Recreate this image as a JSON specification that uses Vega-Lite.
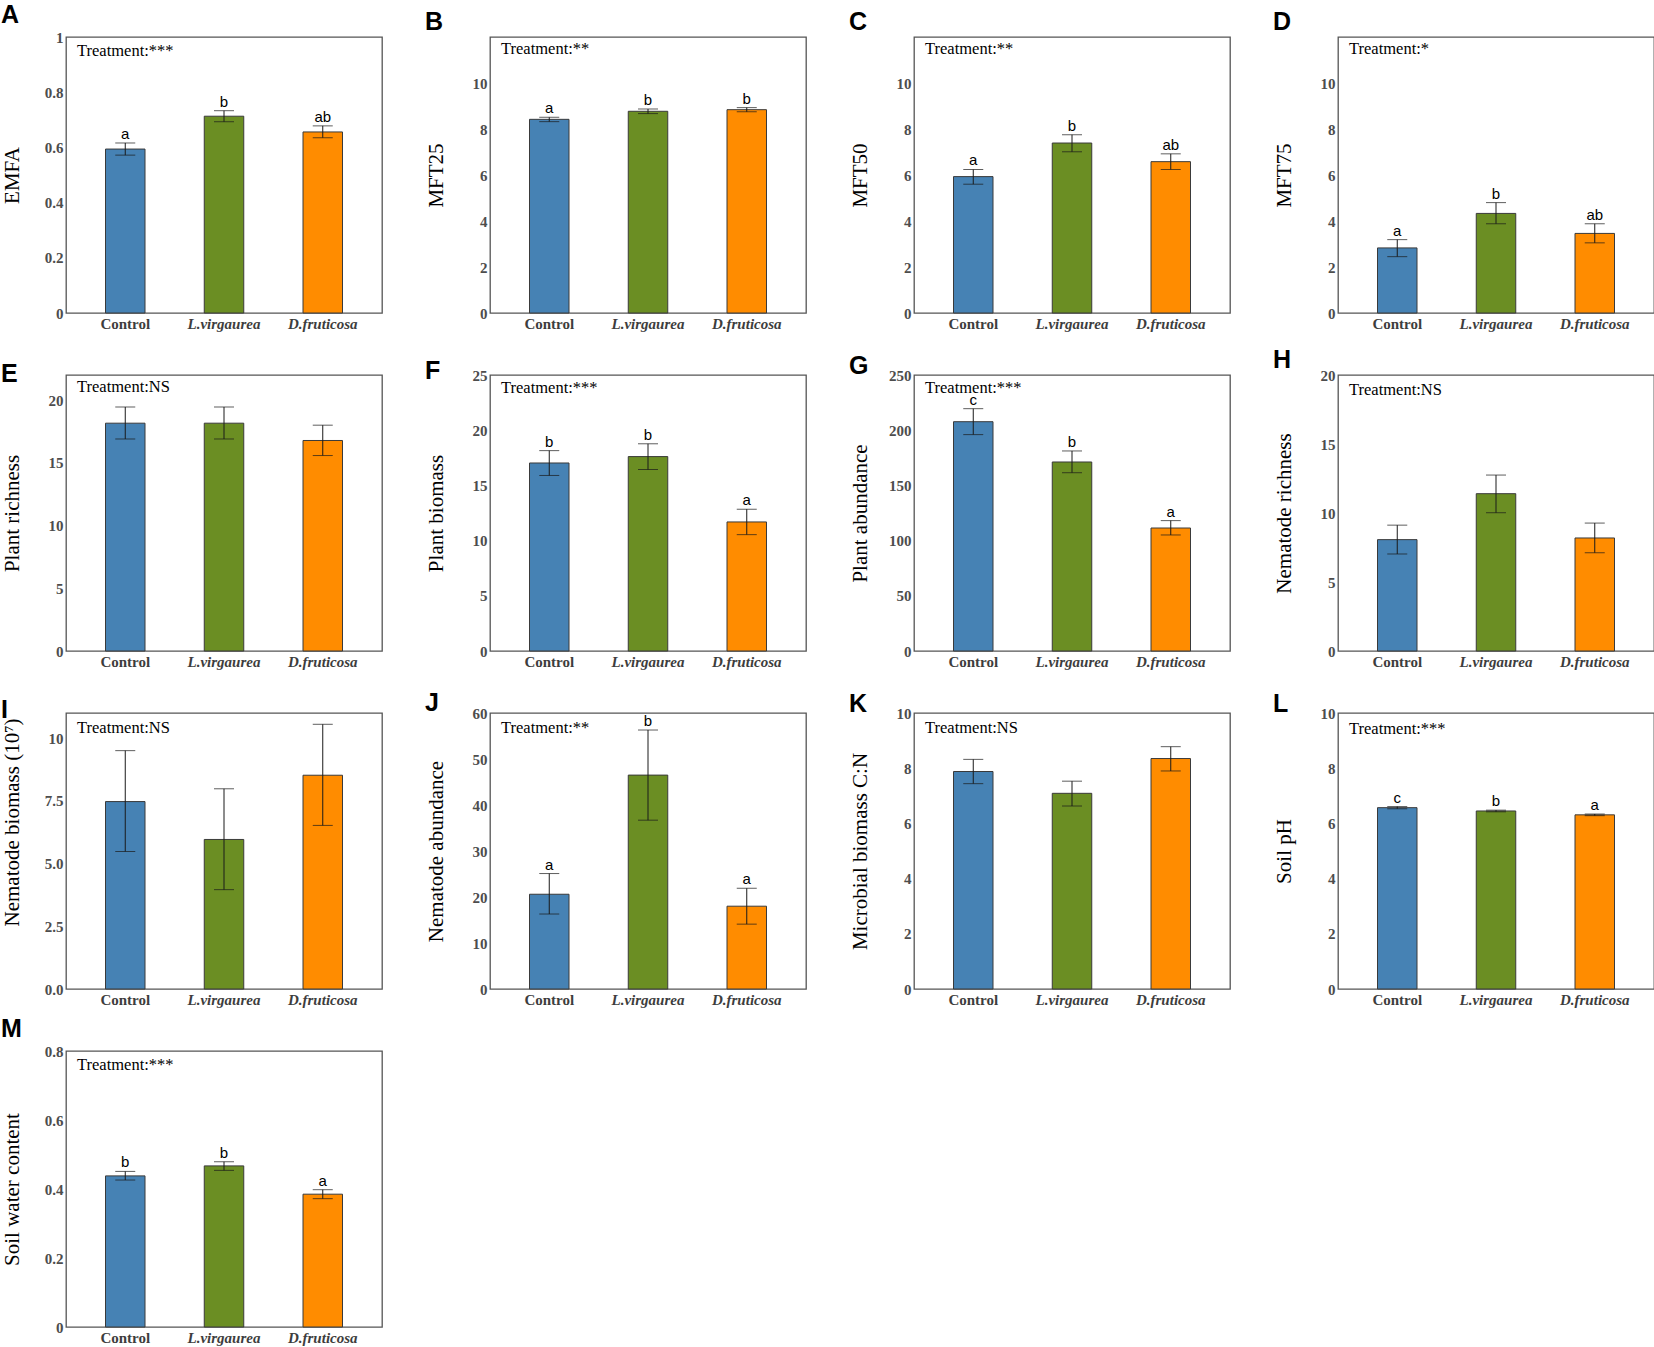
{
  "$schema": "https://vega.github.io/schema/vega-lite/v6.json",
  "autosize": {"type": "pad"},
  "padding": {"left": 0, "top": 2, "right": 0, "bottom": 0},
  "background": "white",
  "data": {
    "values": [
      {"p": "A", "t": "Control", "m": 0.594, "lo": 0.572, "hi": 0.616, "s": "a", "n": "Treatment:***"},
      {"p": "A", "t": "L.virgaurea", "m": 0.713, "lo": 0.693, "hi": 0.733, "s": "b", "n": ""},
      {"p": "A", "t": "D.fruticosa", "m": 0.656, "lo": 0.635, "hi": 0.678, "s": "ab", "n": ""},
      {"p": "B", "t": "Control", "m": 8.42, "lo": 8.32, "hi": 8.51, "s": "a", "n": "Treatment:**"},
      {"p": "B", "t": "L.virgaurea", "m": 8.77, "lo": 8.67, "hi": 8.87, "s": "b", "n": ""},
      {"p": "B", "t": "D.fruticosa", "m": 8.84, "lo": 8.75, "hi": 8.93, "s": "b", "n": ""},
      {"p": "C", "t": "Control", "m": 5.93, "lo": 5.6, "hi": 6.24, "s": "a", "n": "Treatment:**"},
      {"p": "C", "t": "L.virgaurea", "m": 7.39, "lo": 7.01, "hi": 7.75, "s": "b", "n": ""},
      {"p": "C", "t": "D.fruticosa", "m": 6.58, "lo": 6.24, "hi": 6.92, "s": "ab", "n": ""},
      {"p": "D", "t": "Control", "m": 2.83, "lo": 2.45, "hi": 3.19, "s": "a", "n": "Treatment:*"},
      {"p": "D", "t": "L.virgaurea", "m": 4.33, "lo": 3.88, "hi": 4.8, "s": "b", "n": ""},
      {"p": "D", "t": "D.fruticosa", "m": 3.46, "lo": 3.05, "hi": 3.88, "s": "ab", "n": ""},
      {"p": "E", "t": "Control", "m": 18.16, "lo": 16.9, "hi": 19.45, "s": "", "n": "Treatment:NS"},
      {"p": "E", "t": "L.virgaurea", "m": 18.16, "lo": 16.9, "hi": 19.45, "s": "", "n": ""},
      {"p": "E", "t": "D.fruticosa", "m": 16.78, "lo": 15.58, "hi": 18.0, "s": "", "n": ""},
      {"p": "F", "t": "Control", "m": 17.03, "lo": 15.9, "hi": 18.15, "s": "b", "n": "Treatment:***"},
      {"p": "F", "t": "L.virgaurea", "m": 17.61, "lo": 16.44, "hi": 18.77, "s": "b", "n": ""},
      {"p": "F", "t": "D.fruticosa", "m": 11.69, "lo": 10.54, "hi": 12.84, "s": "a", "n": ""},
      {"p": "G", "t": "Control", "m": 207.7, "lo": 196.0, "hi": 219.5, "s": "c", "n": "Treatment:***"},
      {"p": "G", "t": "L.virgaurea", "m": 171.2, "lo": 161.5, "hi": 181.2, "s": "b", "n": ""},
      {"p": "G", "t": "D.fruticosa", "m": 111.4, "lo": 105.1, "hi": 118.1, "s": "a", "n": ""},
      {"p": "H", "t": "Control", "m": 8.07, "lo": 7.03, "hi": 9.12, "s": "", "n": "Treatment:NS"},
      {"p": "H", "t": "L.virgaurea", "m": 11.4, "lo": 10.02, "hi": 12.75, "s": "", "n": ""},
      {"p": "H", "t": "D.fruticosa", "m": 8.19, "lo": 7.12, "hi": 9.27, "s": "", "n": ""},
      {"p": "I", "t": "Control", "m": 7.47, "lo": 5.48, "hi": 9.5, "s": "", "n": "Treatment:NS"},
      {"p": "I", "t": "L.virgaurea", "m": 5.96, "lo": 3.96, "hi": 7.98, "s": "", "n": ""},
      {"p": "I", "t": "D.fruticosa", "m": 8.52, "lo": 6.52, "hi": 10.55, "s": "", "n": ""},
      {"p": "J", "t": "Control", "m": 20.6, "lo": 16.3, "hi": 25.1, "s": "a", "n": "Treatment:**"},
      {"p": "J", "t": "L.virgaurea", "m": 46.5, "lo": 36.7, "hi": 56.3, "s": "b", "n": ""},
      {"p": "J", "t": "D.fruticosa", "m": 18.0, "lo": 14.1, "hi": 21.9, "s": "a", "n": ""},
      {"p": "K", "t": "Control", "m": 7.88, "lo": 7.44, "hi": 8.32, "s": "", "n": "Treatment:NS"},
      {"p": "K", "t": "L.virgaurea", "m": 7.09, "lo": 6.63, "hi": 7.53, "s": "", "n": ""},
      {"p": "K", "t": "D.fruticosa", "m": 8.35, "lo": 7.9, "hi": 8.78, "s": "", "n": ""},
      {"p": "L", "t": "Control", "m": 6.57, "lo": 6.53, "hi": 6.61, "s": "c", "n": "Treatment:***"},
      {"p": "L", "t": "L.virgaurea", "m": 6.45, "lo": 6.42, "hi": 6.48, "s": "b", "n": ""},
      {"p": "L", "t": "D.fruticosa", "m": 6.31, "lo": 6.28, "hi": 6.34, "s": "a", "n": ""},
      {"p": "M", "t": "Control", "m": 0.438, "lo": 0.426, "hi": 0.451, "s": "b", "n": "Treatment:***"},
      {"p": "M", "t": "L.virgaurea", "m": 0.467, "lo": 0.454, "hi": 0.479, "s": "b", "n": ""},
      {"p": "M", "t": "D.fruticosa", "m": 0.385, "lo": 0.372, "hi": 0.398, "s": "a", "n": ""}
    ]
  },
  "columns": 4,
  "bounds": "flush",
  "spacing": {"row": 62, "column": 108},
  "concat": [
    {
      "title": {"text": "A"},
      "width": 316, "height": 276,
      "transform": [{"filter": "datum.p == 'A'"}],
      "encoding": {
        "x": {"field": "t", "type": "nominal", "sort": ["Control", "L.virgaurea", "D.fruticosa"],
          "axis": {"labelFontStyle": {"condition": {"test": "datum.value != 'Control'", "value": "italic"}, "value": "normal"}}},
        "y": {"field": "m", "type": "quantitative", "scale": {"domain": [0, 1]},
          "axis": {"title": "EMFA", "values": [0, 0.2, 0.4, 0.6, 0.8, 1], "format": "~g"}}
      },
      "layer": [
        {"mark": {"type": "bar", "stroke": "#3a3a3a", "strokeWidth": 1},
          "encoding": {"color": {"field": "t", "type": "nominal", "legend": null,
            "scale": {"domain": ["Control", "L.virgaurea", "D.fruticosa"], "range": ["#4682B4", "#6B8E23", "#FF8C00"]}}}},
        {"mark": {"type": "rule", "color": "#1a1a1a", "strokeWidth": 1}, "encoding": {"y": {"field": "lo", "type": "quantitative"}, "y2": {"field": "hi"}}},
        {"mark": {"type": "tick", "color": "#1a1a1a", "size": 20, "thickness": 1}, "encoding": {"y": {"field": "lo", "type": "quantitative"}}},
        {"mark": {"type": "tick", "color": "#1a1a1a", "size": 20, "thickness": 1}, "encoding": {"y": {"field": "hi", "type": "quantitative"}}},
        {"mark": {"type": "text", "baseline": "alphabetic", "dy": -4, "font": "Liberation Sans", "fontSize": 15, "color": "black"},
          "encoding": {"y": {"field": "hi", "type": "quantitative"}, "text": {"field": "s"}}},
        {"mark": {"type": "text", "align": "left", "baseline": "alphabetic", "dx": -28.5, "dy": 19, "font": "Liberation Serif", "fontSize": 16.5, "color": "black"},
          "encoding": {"x": {"field": "t", "type": "nominal", "bandPosition": 0}, "y": {"datum": 1}, "text": {"field": "n"}}}
      ]
    },
    {
      "title": {"text": "B"},
      "width": 316, "height": 276,
      "transform": [{"filter": "datum.p == 'B'"}],
      "encoding": {
        "x": {"field": "t", "type": "nominal", "sort": ["Control", "L.virgaurea", "D.fruticosa"],
          "axis": {"labelFontStyle": {"condition": {"test": "datum.value != 'Control'", "value": "italic"}, "value": "normal"}}},
        "y": {"field": "m", "type": "quantitative", "scale": {"domain": [0, 12]},
          "axis": {"title": "MFT25", "values": [0, 2, 4, 6, 8, 10]}}
      },
      "layer": [
        {"mark": {"type": "bar", "stroke": "#3a3a3a", "strokeWidth": 1},
          "encoding": {"color": {"field": "t", "type": "nominal", "legend": null,
            "scale": {"domain": ["Control", "L.virgaurea", "D.fruticosa"], "range": ["#4682B4", "#6B8E23", "#FF8C00"]}}}},
        {"mark": {"type": "rule", "color": "#1a1a1a", "strokeWidth": 1}, "encoding": {"y": {"field": "lo", "type": "quantitative"}, "y2": {"field": "hi"}}},
        {"mark": {"type": "tick", "color": "#1a1a1a", "size": 20, "thickness": 1}, "encoding": {"y": {"field": "lo", "type": "quantitative"}}},
        {"mark": {"type": "tick", "color": "#1a1a1a", "size": 20, "thickness": 1}, "encoding": {"y": {"field": "hi", "type": "quantitative"}}},
        {"mark": {"type": "text", "baseline": "alphabetic", "dy": -4, "font": "Liberation Sans", "fontSize": 15, "color": "black"},
          "encoding": {"y": {"field": "hi", "type": "quantitative"}, "text": {"field": "s"}}},
        {"mark": {"type": "text", "align": "left", "baseline": "alphabetic", "dx": -28.5, "dy": 17, "font": "Liberation Serif", "fontSize": 16.5, "color": "black"},
          "encoding": {"x": {"field": "t", "type": "nominal", "bandPosition": 0}, "y": {"datum": 12}, "text": {"field": "n"}}}
      ]
    },
    {
      "title": {"text": "C"},
      "width": 316, "height": 276,
      "transform": [{"filter": "datum.p == 'C'"}],
      "encoding": {
        "x": {"field": "t", "type": "nominal", "sort": ["Control", "L.virgaurea", "D.fruticosa"],
          "axis": {"labelFontStyle": {"condition": {"test": "datum.value != 'Control'", "value": "italic"}, "value": "normal"}}},
        "y": {"field": "m", "type": "quantitative", "scale": {"domain": [0, 12]},
          "axis": {"title": "MFT50", "values": [0, 2, 4, 6, 8, 10]}}
      },
      "layer": [
        {"mark": {"type": "bar", "stroke": "#3a3a3a", "strokeWidth": 1},
          "encoding": {"color": {"field": "t", "type": "nominal", "legend": null,
            "scale": {"domain": ["Control", "L.virgaurea", "D.fruticosa"], "range": ["#4682B4", "#6B8E23", "#FF8C00"]}}}},
        {"mark": {"type": "rule", "color": "#1a1a1a", "strokeWidth": 1}, "encoding": {"y": {"field": "lo", "type": "quantitative"}, "y2": {"field": "hi"}}},
        {"mark": {"type": "tick", "color": "#1a1a1a", "size": 20, "thickness": 1}, "encoding": {"y": {"field": "lo", "type": "quantitative"}}},
        {"mark": {"type": "tick", "color": "#1a1a1a", "size": 20, "thickness": 1}, "encoding": {"y": {"field": "hi", "type": "quantitative"}}},
        {"mark": {"type": "text", "baseline": "alphabetic", "dy": -4, "font": "Liberation Sans", "fontSize": 15, "color": "black"},
          "encoding": {"y": {"field": "hi", "type": "quantitative"}, "text": {"field": "s"}}},
        {"mark": {"type": "text", "align": "left", "baseline": "alphabetic", "dx": -28.5, "dy": 17, "font": "Liberation Serif", "fontSize": 16.5, "color": "black"},
          "encoding": {"x": {"field": "t", "type": "nominal", "bandPosition": 0}, "y": {"datum": 12}, "text": {"field": "n"}}}
      ]
    },
    {
      "title": {"text": "D"},
      "width": 316, "height": 276,
      "transform": [{"filter": "datum.p == 'D'"}],
      "encoding": {
        "x": {"field": "t", "type": "nominal", "sort": ["Control", "L.virgaurea", "D.fruticosa"],
          "axis": {"labelFontStyle": {"condition": {"test": "datum.value != 'Control'", "value": "italic"}, "value": "normal"}}},
        "y": {"field": "m", "type": "quantitative", "scale": {"domain": [0, 12]},
          "axis": {"title": "MFT75", "values": [0, 2, 4, 6, 8, 10]}}
      },
      "layer": [
        {"mark": {"type": "bar", "stroke": "#3a3a3a", "strokeWidth": 1},
          "encoding": {"color": {"field": "t", "type": "nominal", "legend": null,
            "scale": {"domain": ["Control", "L.virgaurea", "D.fruticosa"], "range": ["#4682B4", "#6B8E23", "#FF8C00"]}}}},
        {"mark": {"type": "rule", "color": "#1a1a1a", "strokeWidth": 1}, "encoding": {"y": {"field": "lo", "type": "quantitative"}, "y2": {"field": "hi"}}},
        {"mark": {"type": "tick", "color": "#1a1a1a", "size": 20, "thickness": 1}, "encoding": {"y": {"field": "lo", "type": "quantitative"}}},
        {"mark": {"type": "tick", "color": "#1a1a1a", "size": 20, "thickness": 1}, "encoding": {"y": {"field": "hi", "type": "quantitative"}}},
        {"mark": {"type": "text", "baseline": "alphabetic", "dy": -4, "font": "Liberation Sans", "fontSize": 15, "color": "black"},
          "encoding": {"y": {"field": "hi", "type": "quantitative"}, "text": {"field": "s"}}},
        {"mark": {"type": "text", "align": "left", "baseline": "alphabetic", "dx": -28.5, "dy": 17, "font": "Liberation Serif", "fontSize": 16.5, "color": "black"},
          "encoding": {"x": {"field": "t", "type": "nominal", "bandPosition": 0}, "y": {"datum": 12}, "text": {"field": "n"}}}
      ]
    },
    {
      "title": {"text": "E", "dy": 13.5},
      "width": 316, "height": 276,
      "transform": [{"filter": "datum.p == 'E'"}],
      "encoding": {
        "x": {"field": "t", "type": "nominal", "sort": ["Control", "L.virgaurea", "D.fruticosa"],
          "axis": {"labelFontStyle": {"condition": {"test": "datum.value != 'Control'", "value": "italic"}, "value": "normal"}}},
        "y": {"field": "m", "type": "quantitative", "scale": {"domain": [0, 22]},
          "axis": {"title": "Plant richness", "values": [0, 5, 10, 15, 20]}}
      },
      "layer": [
        {"mark": {"type": "bar", "stroke": "#3a3a3a", "strokeWidth": 1},
          "encoding": {"color": {"field": "t", "type": "nominal", "legend": null,
            "scale": {"domain": ["Control", "L.virgaurea", "D.fruticosa"], "range": ["#4682B4", "#6B8E23", "#FF8C00"]}}}},
        {"mark": {"type": "rule", "color": "#1a1a1a", "strokeWidth": 1}, "encoding": {"y": {"field": "lo", "type": "quantitative"}, "y2": {"field": "hi"}}},
        {"mark": {"type": "tick", "color": "#1a1a1a", "size": 20, "thickness": 1}, "encoding": {"y": {"field": "lo", "type": "quantitative"}}},
        {"mark": {"type": "tick", "color": "#1a1a1a", "size": 20, "thickness": 1}, "encoding": {"y": {"field": "hi", "type": "quantitative"}}},
        {"mark": {"type": "text", "align": "left", "baseline": "alphabetic", "dx": -28.5, "dy": 17, "font": "Liberation Serif", "fontSize": 16.5, "color": "black"},
          "encoding": {"x": {"field": "t", "type": "nominal", "bandPosition": 0}, "y": {"datum": 22}, "text": {"field": "n"}}}
      ]
    },
    {
      "title": {"text": "F", "dy": 17.5},
      "width": 316, "height": 276,
      "transform": [{"filter": "datum.p == 'F'"}],
      "encoding": {
        "x": {"field": "t", "type": "nominal", "sort": ["Control", "L.virgaurea", "D.fruticosa"],
          "axis": {"labelFontStyle": {"condition": {"test": "datum.value != 'Control'", "value": "italic"}, "value": "normal"}}},
        "y": {"field": "m", "type": "quantitative", "scale": {"domain": [0, 25]},
          "axis": {"title": "Plant biomass", "values": [0, 5, 10, 15, 20, 25]}}
      },
      "layer": [
        {"mark": {"type": "bar", "stroke": "#3a3a3a", "strokeWidth": 1},
          "encoding": {"color": {"field": "t", "type": "nominal", "legend": null,
            "scale": {"domain": ["Control", "L.virgaurea", "D.fruticosa"], "range": ["#4682B4", "#6B8E23", "#FF8C00"]}}}},
        {"mark": {"type": "rule", "color": "#1a1a1a", "strokeWidth": 1}, "encoding": {"y": {"field": "lo", "type": "quantitative"}, "y2": {"field": "hi"}}},
        {"mark": {"type": "tick", "color": "#1a1a1a", "size": 20, "thickness": 1}, "encoding": {"y": {"field": "lo", "type": "quantitative"}}},
        {"mark": {"type": "tick", "color": "#1a1a1a", "size": 20, "thickness": 1}, "encoding": {"y": {"field": "hi", "type": "quantitative"}}},
        {"mark": {"type": "text", "baseline": "alphabetic", "dy": -4, "font": "Liberation Sans", "fontSize": 15, "color": "black"},
          "encoding": {"y": {"field": "hi", "type": "quantitative"}, "text": {"field": "s"}}},
        {"mark": {"type": "text", "align": "left", "baseline": "alphabetic", "dx": -28.5, "dy": 18, "font": "Liberation Serif", "fontSize": 16.5, "color": "black"},
          "encoding": {"x": {"field": "t", "type": "nominal", "bandPosition": 0}, "y": {"datum": 25}, "text": {"field": "n"}}}
      ]
    },
    {
      "title": {"text": "G", "dy": 12.5},
      "width": 316, "height": 276,
      "transform": [{"filter": "datum.p == 'G'"}],
      "encoding": {
        "x": {"field": "t", "type": "nominal", "sort": ["Control", "L.virgaurea", "D.fruticosa"],
          "axis": {"labelFontStyle": {"condition": {"test": "datum.value != 'Control'", "value": "italic"}, "value": "normal"}}},
        "y": {"field": "m", "type": "quantitative", "scale": {"domain": [0, 250]},
          "axis": {"title": "Plant abundance", "values": [0, 50, 100, 150, 200, 250]}}
      },
      "layer": [
        {"mark": {"type": "bar", "stroke": "#3a3a3a", "strokeWidth": 1},
          "encoding": {"color": {"field": "t", "type": "nominal", "legend": null,
            "scale": {"domain": ["Control", "L.virgaurea", "D.fruticosa"], "range": ["#4682B4", "#6B8E23", "#FF8C00"]}}}},
        {"mark": {"type": "rule", "color": "#1a1a1a", "strokeWidth": 1}, "encoding": {"y": {"field": "lo", "type": "quantitative"}, "y2": {"field": "hi"}}},
        {"mark": {"type": "tick", "color": "#1a1a1a", "size": 20, "thickness": 1}, "encoding": {"y": {"field": "lo", "type": "quantitative"}}},
        {"mark": {"type": "tick", "color": "#1a1a1a", "size": 20, "thickness": 1}, "encoding": {"y": {"field": "hi", "type": "quantitative"}}},
        {"mark": {"type": "text", "baseline": "alphabetic", "dy": -4, "font": "Liberation Sans", "fontSize": 15, "color": "black"},
          "encoding": {"y": {"field": "hi", "type": "quantitative"}, "text": {"field": "s"}}},
        {"mark": {"type": "text", "align": "left", "baseline": "alphabetic", "dx": -28.5, "dy": 18, "font": "Liberation Serif", "fontSize": 16.5, "color": "black"},
          "encoding": {"x": {"field": "t", "type": "nominal", "bandPosition": 0}, "y": {"datum": 250}, "text": {"field": "n"}}}
      ]
    },
    {
      "title": {"text": "H", "dy": 7},
      "width": 316, "height": 276,
      "transform": [{"filter": "datum.p == 'H'"}],
      "encoding": {
        "x": {"field": "t", "type": "nominal", "sort": ["Control", "L.virgaurea", "D.fruticosa"],
          "axis": {"labelFontStyle": {"condition": {"test": "datum.value != 'Control'", "value": "italic"}, "value": "normal"}}},
        "y": {"field": "m", "type": "quantitative", "scale": {"domain": [0, 20]},
          "axis": {"title": "Nematode richness", "values": [0, 5, 10, 15, 20]}}
      },
      "layer": [
        {"mark": {"type": "bar", "stroke": "#3a3a3a", "strokeWidth": 1},
          "encoding": {"color": {"field": "t", "type": "nominal", "legend": null,
            "scale": {"domain": ["Control", "L.virgaurea", "D.fruticosa"], "range": ["#4682B4", "#6B8E23", "#FF8C00"]}}}},
        {"mark": {"type": "rule", "color": "#1a1a1a", "strokeWidth": 1}, "encoding": {"y": {"field": "lo", "type": "quantitative"}, "y2": {"field": "hi"}}},
        {"mark": {"type": "tick", "color": "#1a1a1a", "size": 20, "thickness": 1}, "encoding": {"y": {"field": "lo", "type": "quantitative"}}},
        {"mark": {"type": "tick", "color": "#1a1a1a", "size": 20, "thickness": 1}, "encoding": {"y": {"field": "hi", "type": "quantitative"}}},
        {"mark": {"type": "text", "align": "left", "baseline": "alphabetic", "dx": -28.5, "dy": 20, "font": "Liberation Serif", "fontSize": 16.5, "color": "black"},
          "encoding": {"x": {"field": "t", "type": "nominal", "bandPosition": 0}, "y": {"datum": 20}, "text": {"field": "n"}}}
      ]
    },
    {
      "title": {"text": "I", "dy": 12},
      "width": 316, "height": 276,
      "transform": [{"filter": "datum.p == 'I'"}],
      "encoding": {
        "x": {"field": "t", "type": "nominal", "sort": ["Control", "L.virgaurea", "D.fruticosa"],
          "axis": {"labelFontStyle": {"condition": {"test": "datum.value != 'Control'", "value": "italic"}, "value": "normal"}}},
        "y": {"field": "m", "type": "quantitative", "scale": {"domain": [0, 11]},
          "axis": {"title": "Nematode biomass (10⁷)", "titleY": 109, "values": [0, 2.5, 5, 7.5, 10],
            "labelExpr": "datum.value == 10 ? '10' : format(datum.value, '.1f')"}}
      },
      "layer": [
        {"mark": {"type": "bar", "stroke": "#3a3a3a", "strokeWidth": 1},
          "encoding": {"color": {"field": "t", "type": "nominal", "legend": null,
            "scale": {"domain": ["Control", "L.virgaurea", "D.fruticosa"], "range": ["#4682B4", "#6B8E23", "#FF8C00"]}}}},
        {"mark": {"type": "rule", "color": "#1a1a1a", "strokeWidth": 1}, "encoding": {"y": {"field": "lo", "type": "quantitative"}, "y2": {"field": "hi"}}},
        {"mark": {"type": "tick", "color": "#1a1a1a", "size": 20, "thickness": 1}, "encoding": {"y": {"field": "lo", "type": "quantitative"}}},
        {"mark": {"type": "tick", "color": "#1a1a1a", "size": 20, "thickness": 1}, "encoding": {"y": {"field": "hi", "type": "quantitative"}}},
        {"mark": {"type": "text", "align": "left", "baseline": "alphabetic", "dx": -28.5, "dy": 20, "font": "Liberation Serif", "fontSize": 16.5, "color": "black"},
          "encoding": {"x": {"field": "t", "type": "nominal", "bandPosition": 0}, "y": {"datum": 11}, "text": {"field": "n"}}}
      ]
    },
    {
      "title": {"text": "J", "dy": 12},
      "width": 316, "height": 276,
      "transform": [{"filter": "datum.p == 'J'"}],
      "encoding": {
        "x": {"field": "t", "type": "nominal", "sort": ["Control", "L.virgaurea", "D.fruticosa"],
          "axis": {"labelFontStyle": {"condition": {"test": "datum.value != 'Control'", "value": "italic"}, "value": "normal"}}},
        "y": {"field": "m", "type": "quantitative", "scale": {"domain": [0, 60]},
          "axis": {"title": "Nematode abundance", "values": [0, 10, 20, 30, 40, 50, 60]}}
      },
      "layer": [
        {"mark": {"type": "bar", "stroke": "#3a3a3a", "strokeWidth": 1},
          "encoding": {"color": {"field": "t", "type": "nominal", "legend": null,
            "scale": {"domain": ["Control", "L.virgaurea", "D.fruticosa"], "range": ["#4682B4", "#6B8E23", "#FF8C00"]}}}},
        {"mark": {"type": "rule", "color": "#1a1a1a", "strokeWidth": 1}, "encoding": {"y": {"field": "lo", "type": "quantitative"}, "y2": {"field": "hi"}}},
        {"mark": {"type": "tick", "color": "#1a1a1a", "size": 20, "thickness": 1}, "encoding": {"y": {"field": "lo", "type": "quantitative"}}},
        {"mark": {"type": "tick", "color": "#1a1a1a", "size": 20, "thickness": 1}, "encoding": {"y": {"field": "hi", "type": "quantitative"}}},
        {"mark": {"type": "text", "baseline": "alphabetic", "dy": -4, "font": "Liberation Sans", "fontSize": 15, "color": "black"},
          "encoding": {"y": {"field": "hi", "type": "quantitative"}, "text": {"field": "s"}}},
        {"mark": {"type": "text", "align": "left", "baseline": "alphabetic", "dx": -28.5, "dy": 20, "font": "Liberation Serif", "fontSize": 16.5, "color": "black"},
          "encoding": {"x": {"field": "t", "type": "nominal", "bandPosition": 0}, "y": {"datum": 60}, "text": {"field": "n"}}}
      ]
    },
    {
      "title": {"text": "K", "dy": 12.5},
      "width": 316, "height": 276,
      "transform": [{"filter": "datum.p == 'K'"}],
      "encoding": {
        "x": {"field": "t", "type": "nominal", "sort": ["Control", "L.virgaurea", "D.fruticosa"],
          "axis": {"labelFontStyle": {"condition": {"test": "datum.value != 'Control'", "value": "italic"}, "value": "normal"}}},
        "y": {"field": "m", "type": "quantitative", "scale": {"domain": [0, 10]},
          "axis": {"title": "Microbial biomass C:N", "values": [0, 2, 4, 6, 8, 10]}}
      },
      "layer": [
        {"mark": {"type": "bar", "stroke": "#3a3a3a", "strokeWidth": 1},
          "encoding": {"color": {"field": "t", "type": "nominal", "legend": null,
            "scale": {"domain": ["Control", "L.virgaurea", "D.fruticosa"], "range": ["#4682B4", "#6B8E23", "#FF8C00"]}}}},
        {"mark": {"type": "rule", "color": "#1a1a1a", "strokeWidth": 1}, "encoding": {"y": {"field": "lo", "type": "quantitative"}, "y2": {"field": "hi"}}},
        {"mark": {"type": "tick", "color": "#1a1a1a", "size": 20, "thickness": 1}, "encoding": {"y": {"field": "lo", "type": "quantitative"}}},
        {"mark": {"type": "tick", "color": "#1a1a1a", "size": 20, "thickness": 1}, "encoding": {"y": {"field": "hi", "type": "quantitative"}}},
        {"mark": {"type": "text", "align": "left", "baseline": "alphabetic", "dx": -28.5, "dy": 20, "font": "Liberation Serif", "fontSize": 16.5, "color": "black"},
          "encoding": {"x": {"field": "t", "type": "nominal", "bandPosition": 0}, "y": {"datum": 10}, "text": {"field": "n"}}}
      ]
    },
    {
      "title": {"text": "L", "dy": 12.5},
      "width": 316, "height": 276,
      "transform": [{"filter": "datum.p == 'L'"}],
      "encoding": {
        "x": {"field": "t", "type": "nominal", "sort": ["Control", "L.virgaurea", "D.fruticosa"],
          "axis": {"labelFontStyle": {"condition": {"test": "datum.value != 'Control'", "value": "italic"}, "value": "normal"}}},
        "y": {"field": "m", "type": "quantitative", "scale": {"domain": [0, 10]},
          "axis": {"title": "Soil pH", "values": [0, 2, 4, 6, 8, 10]}}
      },
      "layer": [
        {"mark": {"type": "bar", "stroke": "#3a3a3a", "strokeWidth": 1},
          "encoding": {"color": {"field": "t", "type": "nominal", "legend": null,
            "scale": {"domain": ["Control", "L.virgaurea", "D.fruticosa"], "range": ["#4682B4", "#6B8E23", "#FF8C00"]}}}},
        {"mark": {"type": "rule", "color": "#1a1a1a", "strokeWidth": 1}, "encoding": {"y": {"field": "lo", "type": "quantitative"}, "y2": {"field": "hi"}}},
        {"mark": {"type": "tick", "color": "#1a1a1a", "size": 20, "thickness": 1}, "encoding": {"y": {"field": "lo", "type": "quantitative"}}},
        {"mark": {"type": "tick", "color": "#1a1a1a", "size": 20, "thickness": 1}, "encoding": {"y": {"field": "hi", "type": "quantitative"}}},
        {"mark": {"type": "text", "baseline": "alphabetic", "dy": -4, "font": "Liberation Sans", "fontSize": 15, "color": "black"},
          "encoding": {"y": {"field": "hi", "type": "quantitative"}, "text": {"field": "s"}}},
        {"mark": {"type": "text", "align": "left", "baseline": "alphabetic", "dx": -28.5, "dy": 21, "font": "Liberation Serif", "fontSize": 16.5, "color": "black"},
          "encoding": {"x": {"field": "t", "type": "nominal", "bandPosition": 0}, "y": {"datum": 10}, "text": {"field": "n"}}}
      ]
    },
    {
      "title": {"text": "M"},
      "width": 316, "height": 276,
      "transform": [{"filter": "datum.p == 'M'"}],
      "encoding": {
        "x": {"field": "t", "type": "nominal", "sort": ["Control", "L.virgaurea", "D.fruticosa"],
          "axis": {"labelFontStyle": {"condition": {"test": "datum.value != 'Control'", "value": "italic"}, "value": "normal"}}},
        "y": {"field": "m", "type": "quantitative", "scale": {"domain": [0, 0.8]},
          "axis": {"title": "Soil water content", "values": [0, 0.2, 0.4, 0.6, 0.8], "format": "~g"}}
      },
      "layer": [
        {"mark": {"type": "bar", "stroke": "#3a3a3a", "strokeWidth": 1},
          "encoding": {"color": {"field": "t", "type": "nominal", "legend": null,
            "scale": {"domain": ["Control", "L.virgaurea", "D.fruticosa"], "range": ["#4682B4", "#6B8E23", "#FF8C00"]}}}},
        {"mark": {"type": "rule", "color": "#1a1a1a", "strokeWidth": 1}, "encoding": {"y": {"field": "lo", "type": "quantitative"}, "y2": {"field": "hi"}}},
        {"mark": {"type": "tick", "color": "#1a1a1a", "size": 20, "thickness": 1}, "encoding": {"y": {"field": "lo", "type": "quantitative"}}},
        {"mark": {"type": "tick", "color": "#1a1a1a", "size": 20, "thickness": 1}, "encoding": {"y": {"field": "hi", "type": "quantitative"}}},
        {"mark": {"type": "text", "baseline": "alphabetic", "dy": -4, "font": "Liberation Sans", "fontSize": 15, "color": "black"},
          "encoding": {"y": {"field": "hi", "type": "quantitative"}, "text": {"field": "s"}}},
        {"mark": {"type": "text", "align": "left", "baseline": "alphabetic", "dx": -28.5, "dy": 19, "font": "Liberation Serif", "fontSize": 16.5, "color": "black"},
          "encoding": {"x": {"field": "t", "type": "nominal", "bandPosition": 0}, "y": {"datum": 0.8}, "text": {"field": "n"}}}
      ]
    }
  ],
  "config": {
    "view": {"stroke": "#555555", "strokeWidth": 1.3},
    "scale": {"bandPaddingInner": 0.6, "bandPaddingOuter": 0.4},
    "axis": {
      "grid": false, "ticks": false, "domain": false,
      "labelFont": "Liberation Serif", "labelFontWeight": "bold",
      "titleFont": "Liberation Serif", "titleFontWeight": "normal", "titleColor": "black"
    },
    "axisX": {"title": null, "labelAngle": 0, "labelFontSize": 15, "labelPadding": 3, "labelColor": "#3d3d3d"},
    "axisY": {"labelFontSize": 15, "labelPadding": 3, "labelColor": "#4d4d4d", "titleFontSize": 21, "titleX": -48, "titleBaseline": "alphabetic"},
    "title": {"anchor": "start", "frame": "group", "dx": -65, "offset": 2, "baseline": "alphabetic",
      "font": "Liberation Sans", "fontSize": 25, "fontWeight": "bold", "color": "black"}
  }
}
